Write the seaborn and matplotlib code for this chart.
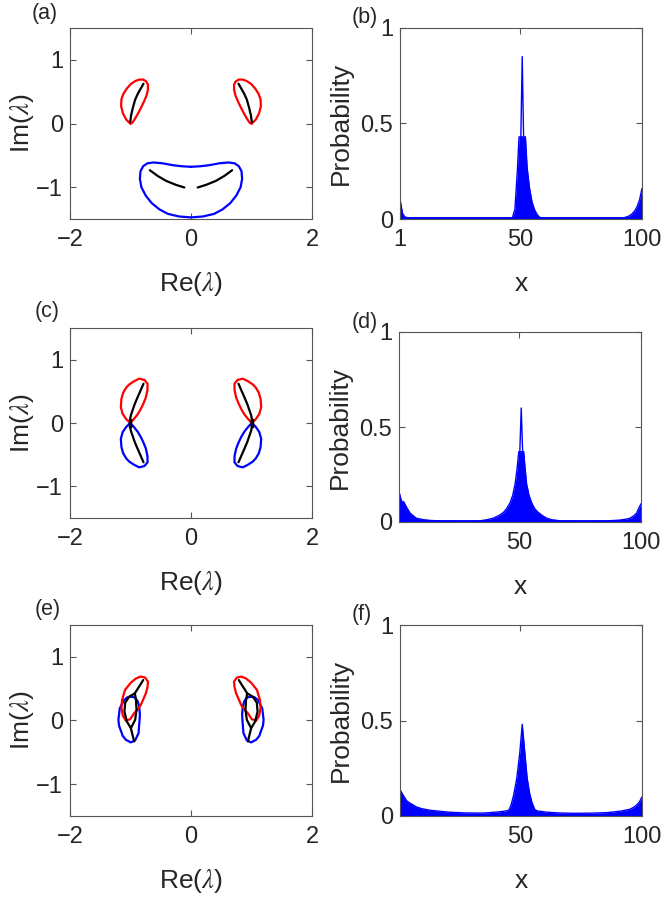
import numpy as np
import matplotlib
matplotlib.use("Agg")
import matplotlib.pyplot as plt
import seaborn as sns

sns.set_theme(style="ticks")
plt.rcParams['font.family'] = ['Liberation Sans', 'DejaVu Sans']
plt.rcParams['mathtext.fontset'] = 'stix'

# ---------------- spectra (left column) ----------------
# only the left lobe is listed, the right lobe is its mirror image (Re -> -Re)
# (a)
a_red_x = [-1.005, -1.07, -1.125, -1.155, -1.15, -1.115, -1.06, -0.995, -0.925, -0.856, -0.79, -0.738,
           -0.712, -0.712, -0.735, -0.775, -0.825, -0.88, -0.935, -0.975, -1.005]
a_red_y = [0.0, 0.06, 0.16, 0.27, 0.38, 0.47, 0.55, 0.62, 0.665, 0.69, 0.69, 0.66,
           0.61, 0.53, 0.44, 0.35, 0.25, 0.15, 0.06, 0.005, 0.0]
a_black_x = [-1.005, -0.99, -0.96, -0.923, -0.878, -0.83, -0.785]
a_black_y = [0.02, 0.13, 0.25, 0.375, 0.47, 0.55, 0.625]
# bottom loop, right half from top centre round to bottom centre
a_blue_x = [0.0, 0.15, 0.3, 0.47, 0.62, 0.72, 0.79, 0.835, 0.845, 0.82, 0.75, 0.65, 0.52, 0.38, 0.2, 0.0]
a_blue_y = [-0.68, -0.672, -0.655, -0.625, -0.612, -0.625, -0.67, -0.75, -0.87, -1.0, -1.13, -1.25,
            -1.35, -1.42, -1.46, -1.475]
a_dash_x = [-0.68, -0.552, -0.414, -0.249, -0.11]
a_dash_y = [-0.734, -0.823, -0.9, -0.964, -1.005]

# (c)  blue lobe = red lobe reflected in Im
c_red_x = [-1.005, -1.07, -1.13, -1.16, -1.15, -1.12, -1.07, -1.02, -0.94, -0.856, -0.77, -0.718,
           -0.72, -0.746, -0.79, -0.829, -0.88, -0.94, -1.005]
c_red_y = [0.0, 0.06, 0.145, 0.25, 0.38, 0.48, 0.56, 0.61, 0.66, 0.70, 0.68, 0.62,
           0.52, 0.404, 0.30, 0.223, 0.14, 0.067, 0.0]
c_black_x = [-0.785, -0.835, -0.884, -0.93, -0.967, -0.995, -1.005, -1.005, -0.995, -0.967, -0.93,
             -0.884, -0.835, -0.785]
c_black_y = [0.62, 0.51, 0.404, 0.30, 0.197, 0.12, 0.067, -0.067, -0.12, -0.197, -0.30,
             -0.404, -0.51, -0.62]
c_box_x = [-1.02, -0.99, -0.99, -1.02, -1.02]
c_box_y = [-0.06, -0.06, 0.06, 0.06, -0.06]

# (e)
e_red_x = [-1.077, -1.125, -1.15, -1.14, -1.09, -1.04, -0.994, -0.91, -0.83, -0.76, -0.71, -0.72,
           -0.746, -0.79, -0.829, -0.885, -0.94, -1.005, -1.077]
e_red_y = [0.0, 0.07, 0.2, 0.32, 0.48, 0.54, 0.594, 0.66, 0.69, 0.675, 0.61, 0.52,
           0.427, 0.33, 0.245, 0.17, 0.115, 0.02, 0.0]
e_blue_x = [-0.983, -0.925, -0.88, -0.856, -0.845, -0.85, -0.867, -0.923, -0.994, -1.077, -1.13,
            -1.155, -1.19, -1.2, -1.177, -1.105, -1.05, -0.983]
e_blue_y = [0.375, 0.36, 0.3, 0.22, 0.1, 0.01, -0.198, -0.3125, -0.344, -0.302, -0.24,
            -0.17, -0.08, 0.01, 0.193, 0.323, 0.365, 0.375]
e_black1_x = [-0.79, -0.86, -0.928, -1.02, -1.088, -1.1, -1.06, -0.994, -0.967, -0.94]
e_black1_y = [0.635, 0.53, 0.427, 0.375, 0.28, 0.14, -0.016, -0.12, -0.224, -0.328]
e_black2_x = [-0.928, -0.91, -0.9, -0.923, -0.994]
e_black2_y = [0.427, 0.323, 0.167, 0.01, -0.12]

# ---------------- probability profiles (right column) ----------------
# upper envelope of the bundle of eigenstates + the highest single state
b_x = [1, 2, 3, 5, 46, 47, 48, 49, 49.7, 50.5, 51.5, 52.3, 53, 54, 55, 56, 57, 58, 59,
       92, 93, 94, 95, 96, 97, 98, 99, 100]
b_y = [0.105, 0.03, 0.01, 0.005, 0.005, 0.008, 0.05, 0.25, 0.43, 0.43, 0.43, 0.43, 0.27, 0.16,
       0.09, 0.05, 0.025, 0.01, 0.005, 0.005, 0.008, 0.012, 0.018, 0.028, 0.042, 0.065, 0.1, 0.16]
b_spike_x = [50, 51, 52]
b_spike_y = [0.1, 0.85, 0.1]

d_x = [1, 2, 3, 4, 5.5, 8, 11, 14, 20, 30, 34, 37, 39.6, 42, 43.7, 45, 46.4, 47.5, 48.5, 49.3, 50,
       52, 52.6, 53.2, 54.2, 55.3, 56.5, 58, 59.5, 61.4, 63.5, 67, 75, 85, 91.4, 94, 95.5, 97,
       98.2, 99, 100]
d_y = [0.16, 0.11, 0.105, 0.08, 0.047, 0.02, 0.012, 0.008, 0.005, 0.004, 0.006, 0.012, 0.02,
       0.035, 0.05, 0.07, 0.1, 0.14, 0.2, 0.28, 0.37, 0.37, 0.28, 0.2, 0.14, 0.1, 0.07, 0.05,
       0.035, 0.02, 0.012, 0.006, 0.004, 0.005, 0.01, 0.015, 0.02, 0.032, 0.047, 0.07, 0.096]
d_spike_x = [50, 51, 52]
d_spike_y = [0.2, 0.6, 0.2]

f_x = [1, 2, 3.7, 5, 7.8, 10, 13.3, 21, 28, 35, 40, 43, 45, 45.7, 46.5, 47.5, 48.8, 50, 51, 52,
       53, 54, 55, 56.1, 57, 61, 66, 72, 80, 86, 91, 93, 95, 96.5, 97.7, 99, 100]
f_y = [0.138, 0.115, 0.08, 0.068, 0.047, 0.038, 0.03, 0.02, 0.016, 0.015, 0.02, 0.024, 0.028,
       0.035, 0.06, 0.11, 0.2, 0.33, 0.48, 0.34, 0.2, 0.12, 0.07, 0.035, 0.027, 0.02, 0.016,
       0.014, 0.015, 0.018, 0.025, 0.03, 0.035, 0.045, 0.056, 0.075, 0.1]

W, H = 663, 897
fig = plt.figure(figsize=(W / 100, H / 100), dpi=100)


def make_ax(l, t, r, b):
    return fig.add_axes([l / W, 1 - b / H, (r - l) / W, (b - t) / H])


def curve(ax, xs, ys, color, lw=1.6):
    sns.lineplot(x=xs, y=ys, sort=False, estimator=None, color=color, lw=lw, ax=ax)


def neg(v):
    return [-t for t in v]


def style(ax):
    for s in ax.spines.values():
        s.set_color('#555555')
        s.set_linewidth(0.8)
    ax.tick_params(direction='in', top=True, right=True, length=4, width=0.8,
                   color='#555555', labelsize=17, labelcolor='#262626')
    ax.tick_params(axis='x', pad=7)
    ax.tick_params(axis='y', pad=5)


def spectrum_axes(ax):
    ax.set_xlim(-2, 2)
    ax.set_ylim(-1.5, 1.5)
    ax.set_xticks([-2, 0, 2])
    ax.set_yticks([-1, 0, 1])
    style(ax)
    ax.set_xlabel(r'Re($\lambda$)', fontsize=19, color='#262626')
    ax.set_ylabel(r'Im($\lambda$)', fontsize=19, color='#262626')
    ax.xaxis.set_label_coords(0.5, -0.34)
    ax.xaxis.label.set_va('center')
    ax.yaxis.set_label_coords(-0.2, 0.5)
    ax.yaxis.label.set_va('center')


def prob_axes(ax, xt):
    ax.set_xlim(1, 100)
    ax.set_ylim(0, 1)
    ax.set_xticks(xt)
    ax.set_yticks([0, 0.5, 1])
    ax.set_yticklabels(['0', '0.5', '1'])
    style(ax)
    ax.set_xlabel('x', fontsize=19, color='#262626')
    ax.set_ylabel('Probability', fontsize=19, color='#262626')
    ax.xaxis.set_label_coords(0.5, -0.34)
    ax.xaxis.label.set_va('center')
    ax.yaxis.set_label_coords(-0.245, 0.5)
    ax.yaxis.label.set_va('center')


def profile(ax, xs, ys, sx, sy):
    ax.fill_between(xs, 0, ys, color='blue', lw=0)
    curve(ax, xs, ys, 'blue', lw=1.0)
    curve(ax, sx, sy, 'blue', lw=1.0)
    curve(ax, [1, 100], [0.003, 0.003], 'blue', lw=2.0)


# (a)
ax = make_ax(70, 28, 312, 219)
for sgn in (1, -1):
    xs = a_red_x if sgn == 1 else neg(a_red_x)
    curve(ax, xs, a_red_y, 'red')
    curve(ax, a_black_x if sgn == 1 else neg(a_black_x), a_black_y, 'black')
    curve(ax, a_dash_x if sgn == 1 else neg(a_dash_x), a_dash_y, 'black')
curve(ax, a_blue_x + neg(a_blue_x[::-1]), a_blue_y + a_blue_y[::-1], 'blue')
spectrum_axes(ax)

# (c)
ax = make_ax(70, 328, 312, 518)
for xs_red, xs_blk, xs_box in [(c_red_x, c_black_x, c_box_x),
                               (neg(c_red_x), neg(c_black_x), neg(c_box_x))]:
    curve(ax, xs_red, c_red_y, 'red')
    curve(ax, xs_red, neg(c_red_y), 'blue')
    curve(ax, xs_blk, c_black_y, 'black')
    curve(ax, xs_box, c_box_y, 'black', lw=1.0)
spectrum_axes(ax)

# (e)
ax = make_ax(70, 625, 312, 816)
for flip in (False, True):
    f = neg if flip else (lambda v: v)
    curve(ax, f(e_blue_x), e_blue_y, 'blue')
    curve(ax, f(e_red_x), e_red_y, 'red')
    curve(ax, f(e_black1_x), e_black1_y, 'black')
    curve(ax, f(e_black2_x), e_black2_y, 'black')
spectrum_axes(ax)

# (b)
ax = make_ax(400, 28, 642, 219)
profile(ax, b_x, b_y, b_spike_x, b_spike_y)
prob_axes(ax, [1, 50, 100])

# (d)
ax = make_ax(399, 332, 641, 522)
profile(ax, d_x, d_y, d_spike_x, d_spike_y)
prob_axes(ax, [50, 100])

# (f)
ax = make_ax(400, 625, 642, 816)
profile(ax, f_x, f_y, [51], [0.48])
prob_axes(ax, [50, 100])

# panel letters
for lab, px, py in [('(a)', 32, 13), ('(b)', 352, 18), ('(c)', 35, 312),
                    ('(d)', 352, 322), ('(e)', 35, 609), ('(f)', 352, 614)]:
    fig.text(px / W, 1 - py / H, lab, fontsize=15.5, color='#262626', ha='left', va='center')

fig.savefig('out.png', dpi=100)
